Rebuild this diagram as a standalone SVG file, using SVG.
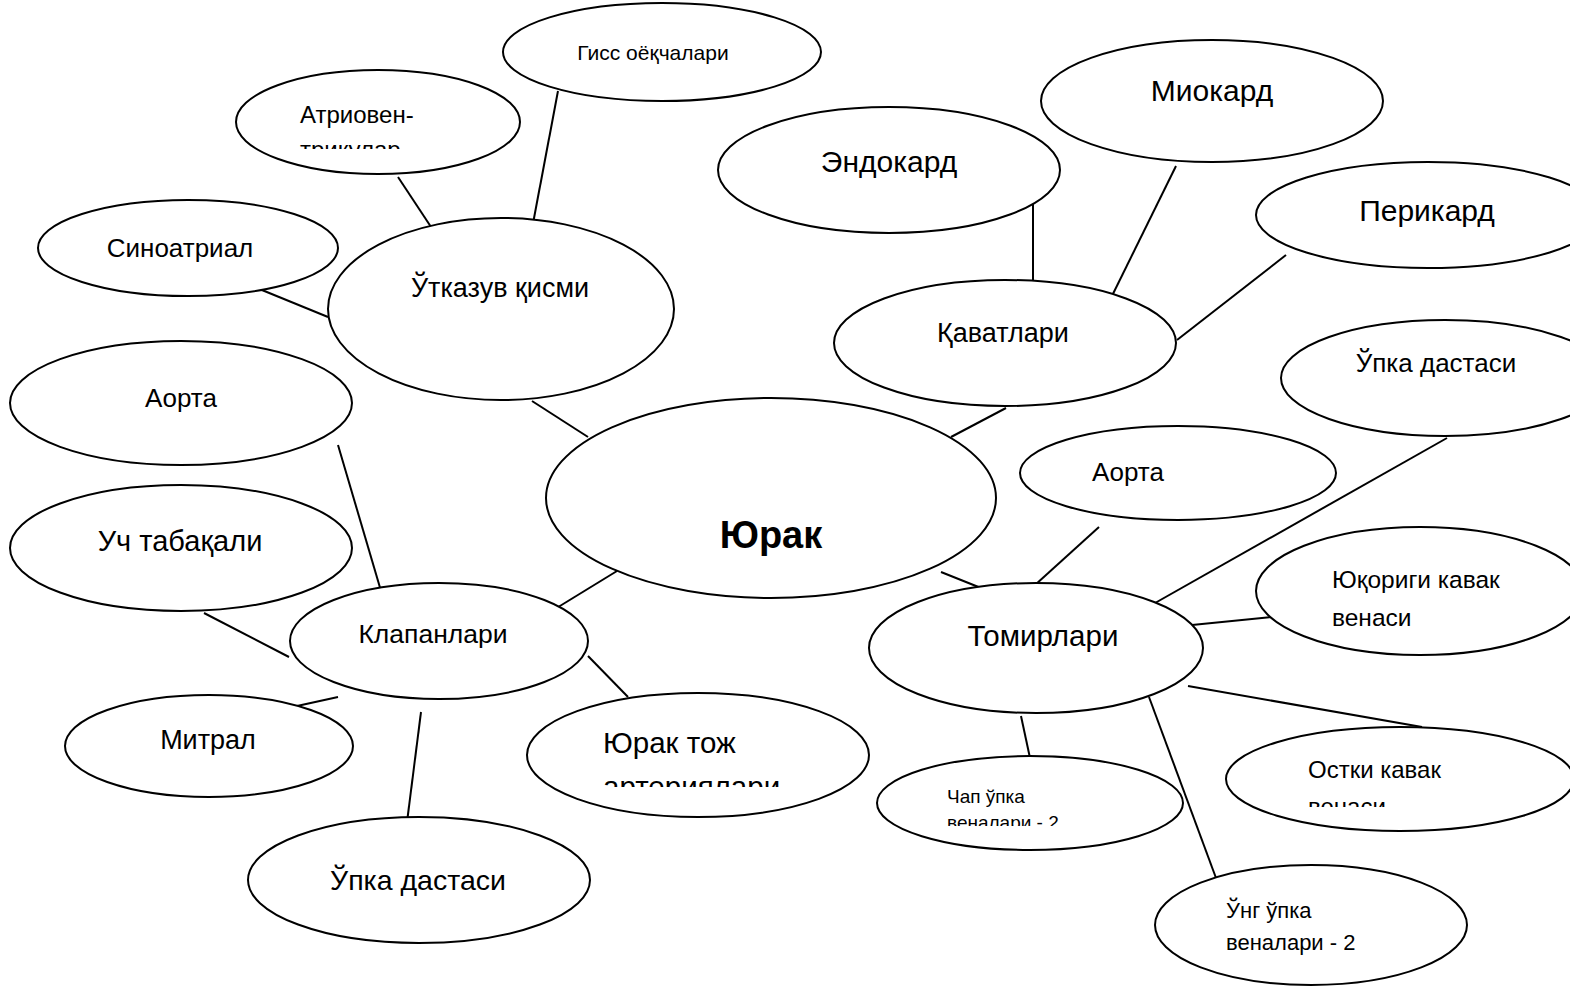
<svg xmlns="http://www.w3.org/2000/svg" width="1570" height="987" viewBox="0 0 1570 987">
<style>
ellipse{fill:#fff;stroke:#000;stroke-width:2}
line{stroke:#000;stroke-width:2}
text{font-family:"Liberation Sans",Arial,sans-serif;fill:#000}
.c{text-anchor:middle}
</style>
<defs>
<clipPath id="clA"><rect x="230" y="60" width="300" height="89"/></clipPath>
<clipPath id="clJ"><rect x="520" y="690" width="360" height="97"/></clipPath>
<clipPath id="clC"><rect x="870" y="750" width="320" height="76"/></clipPath>
<clipPath id="clO"><rect x="1220" y="720" width="350" height="87"/></clipPath>
</defs>
<rect width="1570" height="987" fill="#fff"/>
<g id="connectors">
<line x1="558" y1="91" x2="531" y2="234"/>
<line x1="398" y1="177" x2="437" y2="236"/>
<line x1="257" y1="288" x2="328" y2="317"/>
<line x1="532" y1="401" x2="588" y2="437"/>
<line x1="1033" y1="196" x2="1033" y2="286"/>
<line x1="1176" y1="166" x2="1108" y2="304"/>
<line x1="1286" y1="255" x2="1177" y2="340"/>
<line x1="1006" y1="408" x2="951" y2="437"/>
<line x1="338" y1="445" x2="381" y2="591"/>
<line x1="204" y1="613" x2="289" y2="657"/>
<line x1="297" y1="706" x2="338" y2="697"/>
<line x1="421" y1="712" x2="406" y2="830"/>
<line x1="588" y1="656" x2="628" y2="697"/>
<line x1="555" y1="609" x2="617" y2="571"/>
<line x1="941" y1="572" x2="981" y2="588"/>
<line x1="1099" y1="527" x2="1035" y2="585"/>
<line x1="1447" y1="438" x2="1148" y2="607"/>
<line x1="1192" y1="625" x2="1272" y2="617"/>
<line x1="1188" y1="686" x2="1422" y2="727"/>
<line x1="1021" y1="716" x2="1030" y2="758"/>
<line x1="1149" y1="697" x2="1216" y2="878"/>
</g>
<g id="n-giss"><ellipse cx="662" cy="52" rx="159" ry="49"/><text class="c" x="653" y="60" font-size="21">Гисс оёқчалари</text></g>
<g id="n-atrio"><ellipse cx="378" cy="122" rx="142" ry="52"/><g clip-path="url(#clA)"><text x="300" y="123" font-size="24">Атриовен-</text><text x="300" y="158" font-size="24">трикулар</text></g></g>
<g id="n-sino"><ellipse cx="188" cy="248" rx="150" ry="48"/><text class="c" x="180" y="257" font-size="26">Синоатриал</text></g>
<g id="n-otkazuv"><ellipse cx="501" cy="309" rx="173" ry="91"/><text class="c" x="500" y="297" font-size="27">Ўтказув қисми</text></g>
<g id="n-endo"><ellipse cx="889" cy="170" rx="171" ry="63"/><text class="c" x="889" y="172" font-size="30">Эндокард</text></g>
<g id="n-mio"><ellipse cx="1212" cy="101" rx="171" ry="61"/><text class="c" x="1212" y="101" font-size="30">Миокард</text></g>
<g id="n-peri"><ellipse cx="1428" cy="215" rx="172" ry="53"/><text class="c" x="1427" y="221" font-size="30">Перикард</text></g>
<g id="n-qavat"><ellipse cx="1005" cy="343" rx="171" ry="63"/><text class="c" x="1003" y="342" font-size="27">Қаватлари</text></g>
<g id="n-upka-r"><ellipse cx="1445" cy="378" rx="164" ry="58"/><text class="c" x="1436" y="372" font-size="26">Ўпка дастаси</text></g>
<g id="n-aorta-l"><ellipse cx="181" cy="403" rx="171" ry="62"/><text class="c" x="181" y="407" font-size="26">Аорта</text></g>
<g id="n-yurak"><ellipse cx="771" cy="498" rx="225" ry="100"/><text class="c" x="771" y="548" font-size="38" font-weight="bold">Юрак</text></g>
<g id="n-aorta-r"><ellipse cx="1178" cy="473" rx="158" ry="47"/><text class="c" x="1128" y="481" font-size="26">Аорта</text></g>
<g id="n-uch"><ellipse cx="181" cy="548" rx="171" ry="63"/><text class="c" x="180" y="551" font-size="29">Уч табақали</text></g>
<g id="n-yuqori"><ellipse cx="1420" cy="591" rx="164" ry="64"/><text x="1332" y="588" font-size="24.5">Юқориги кавак</text><text x="1332" y="626" font-size="24.5">венаси</text></g>
<g id="n-klapan"><ellipse cx="439" cy="641" rx="149" ry="58"/><text class="c" x="433" y="643" font-size="26.5">Клапанлари</text></g>
<g id="n-tomir"><ellipse cx="1036" cy="648" rx="167" ry="65"/><text class="c" x="1043" y="646" font-size="29.5">Томирлари</text></g>
<g id="n-mitral"><ellipse cx="209" cy="746" rx="144" ry="51"/><text class="c" x="208" y="749" font-size="27">Митрал</text></g>
<g id="n-toj"><ellipse cx="698" cy="755" rx="171" ry="62"/><g clip-path="url(#clJ)"><text x="603" y="753" font-size="29.5">Юрак тож</text><text x="603" y="797" font-size="29.5">артериялари</text></g></g>
<g id="n-chap"><ellipse cx="1030" cy="803" rx="153" ry="47"/><g clip-path="url(#clC)"><text x="947" y="803" font-size="19">Чап ўпка</text><text x="947" y="829" font-size="19">веналари - 2</text></g></g>
<g id="n-ostki"><ellipse cx="1400" cy="779" rx="174" ry="52"/><g clip-path="url(#clO)"><text x="1308" y="778" font-size="24">Остки кавак</text><text x="1308" y="815" font-size="24">венаси</text></g></g>
<g id="n-ung"><ellipse cx="1311" cy="925" rx="156" ry="60"/><text x="1226" y="918" font-size="22">Ўнг ўпка</text><text x="1226" y="950" font-size="22">веналари - 2</text></g>
<g id="n-upka-b"><ellipse cx="419" cy="880" rx="171" ry="63"/><text class="c" x="418" y="890" font-size="28.5">Ўпка дастаси</text></g>
</svg>
